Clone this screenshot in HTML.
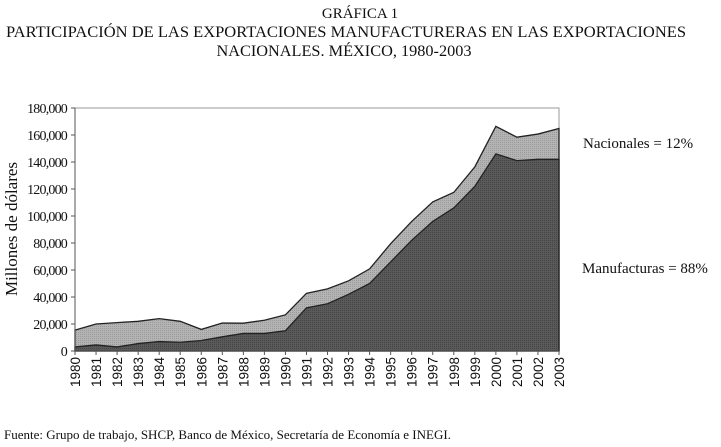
<!DOCTYPE html>
<html><head><meta charset="utf-8"><style>
html,body{margin:0;padding:0;background:#fff;}
svg{display:block;font-family:"Liberation Serif",serif;}
</style></head><body>
<svg id="chart" width="721" height="447" viewBox="0 0 721 447" xmlns="http://www.w3.org/2000/svg">
<defs>
<pattern id="dots" width="2" height="2" patternUnits="userSpaceOnUse"><rect width="2" height="2" fill="#5a5a5a"/><rect width="1" height="1" fill="#444"/></pattern>
<pattern id="dotsL" width="2" height="2" patternUnits="userSpaceOnUse"><rect width="2" height="2" fill="#b4b4b4"/><rect width="1" height="1" fill="#999"/></pattern>
</defs>
<text x="360" y="18" text-anchor="middle" font-size="15" fill="#111">GRÁFICA 1</text>
<text x="346" y="37" text-anchor="middle" font-size="15.5" fill="#111" textLength="680" lengthAdjust="spacingAndGlyphs">PARTICIPACIÓN DE LAS EXPORTACIONES MANUFACTURERAS EN LAS EXPORTACIONES</text>
<text x="344" y="56" text-anchor="middle" font-size="15.5" fill="#111" textLength="255" lengthAdjust="spacingAndGlyphs">NACIONALES. MÉXICO, 1980-2003</text>
<text transform="translate(17,229) rotate(-90)" text-anchor="middle" font-size="17" fill="#111">Millones de dólares</text>
<g id="plot"></g>
<text x="583" y="148" font-size="15" fill="#111">Nacionales = 12%</text>
<text x="582" y="273" font-size="15" fill="#111">Manufacturas = 88%</text>
<text x="4" y="439" font-size="13" fill="#111">Fuente: Grupo de trabajo, SHCP, Banco de México, Secretaría de Economía e INEGI.</text>
</svg>
<script>
const years = [1980,1981,1982,1983,1984,1985,1986,1987,1988,1989,1990,1991,1992,1993,1994,1995,1996,1997,1998,1999,2000,2001,2002,2003];
const totalExports = [15500,20000,21000,22000,24000,22000,16000,20700,20600,22800,26800,42700,46000,52000,60800,79500,96000,110400,117500,136400,166400,158400,160700,164800];
const manufExports = [3000,4500,3000,5500,7000,6500,7800,10500,13000,13000,15000,32000,35000,42000,50000,66000,82000,96000,106000,122000,146000,141000,142000,142000];
const yTicks = [0,20000,40000,60000,80000,100000,120000,140000,160000,180000];
const yTickLabels = ["0","20,000","40,000","60,000","80,000","100,000","120,000","140,000","160,000","180,000"];

const NS="http://www.w3.org/2000/svg";
const L=75,R=559,T=108,B=351,YMAX=180000;
const x=i=>L+(R-L)*i/(years.length-1);
const y=v=>B-(B-T)*v/YMAX;
const g=document.getElementById('plot');
function mk(tag,attrs){const e=document.createElementNS(NS,tag);for(const k in attrs)e.setAttribute(k,attrs[k]);g.appendChild(e);return e;}

const frame=mk('rect',{x:L,y:T,width:R-L,height:B-T,fill:'#fff',stroke:'#999','stroke-width':1});



let topPts=years.map((_,i)=>x(i)+','+y(totalExports[i])).join(' ');
let totArea=mk('polygon',{points:topPts+' '+x(years.length-1)+','+B+' '+L+','+B,fill:'url(#dotsL)',stroke:'#222','stroke-width':1.3});


let mPts=years.map((_,i)=>x(i)+','+y(manufExports[i])).join(' ');
let mArea=mk('polygon',{points:mPts+' '+x(years.length-1)+','+B+' '+L+','+B,fill:'url(#dots)',stroke:'#222','stroke-width':1.3});



const ax=mk('line',{x1:L,y1:T,x2:L,y2:B,stroke:'#555','stroke-width':1});


const bx=mk('line',{x1:L,y1:B,x2:R,y2:B,stroke:'#555','stroke-width':1});



yTicks.forEach((v,i)=>{
  const t=mk('line',{x1:L-4,x2:L,y1:y(v),y2:y(v),stroke:'#555'});
  
  
  const lb=mk('text',{x:L-8,y:y(v)+5,'text-anchor':'end','font-size':14,fill:'#111','letter-spacing':'-0.8'});
  lb.textContent=yTickLabels[i];
  
  
});
years.forEach((yr,i)=>{
  const t=mk('line',{x1:x(i),x2:x(i),y1:B,y2:B+4,stroke:'#555'});
  
  
  const lb=mk('text',{transform:'translate('+(x(i)+5)+','+(B+6)+') rotate(-90)','text-anchor':'end','font-size':13.5,fill:'#111','font-family':'Liberation Sans, sans-serif'});
  lb.textContent=yr;
  
  
});
</script>
</body></html>
